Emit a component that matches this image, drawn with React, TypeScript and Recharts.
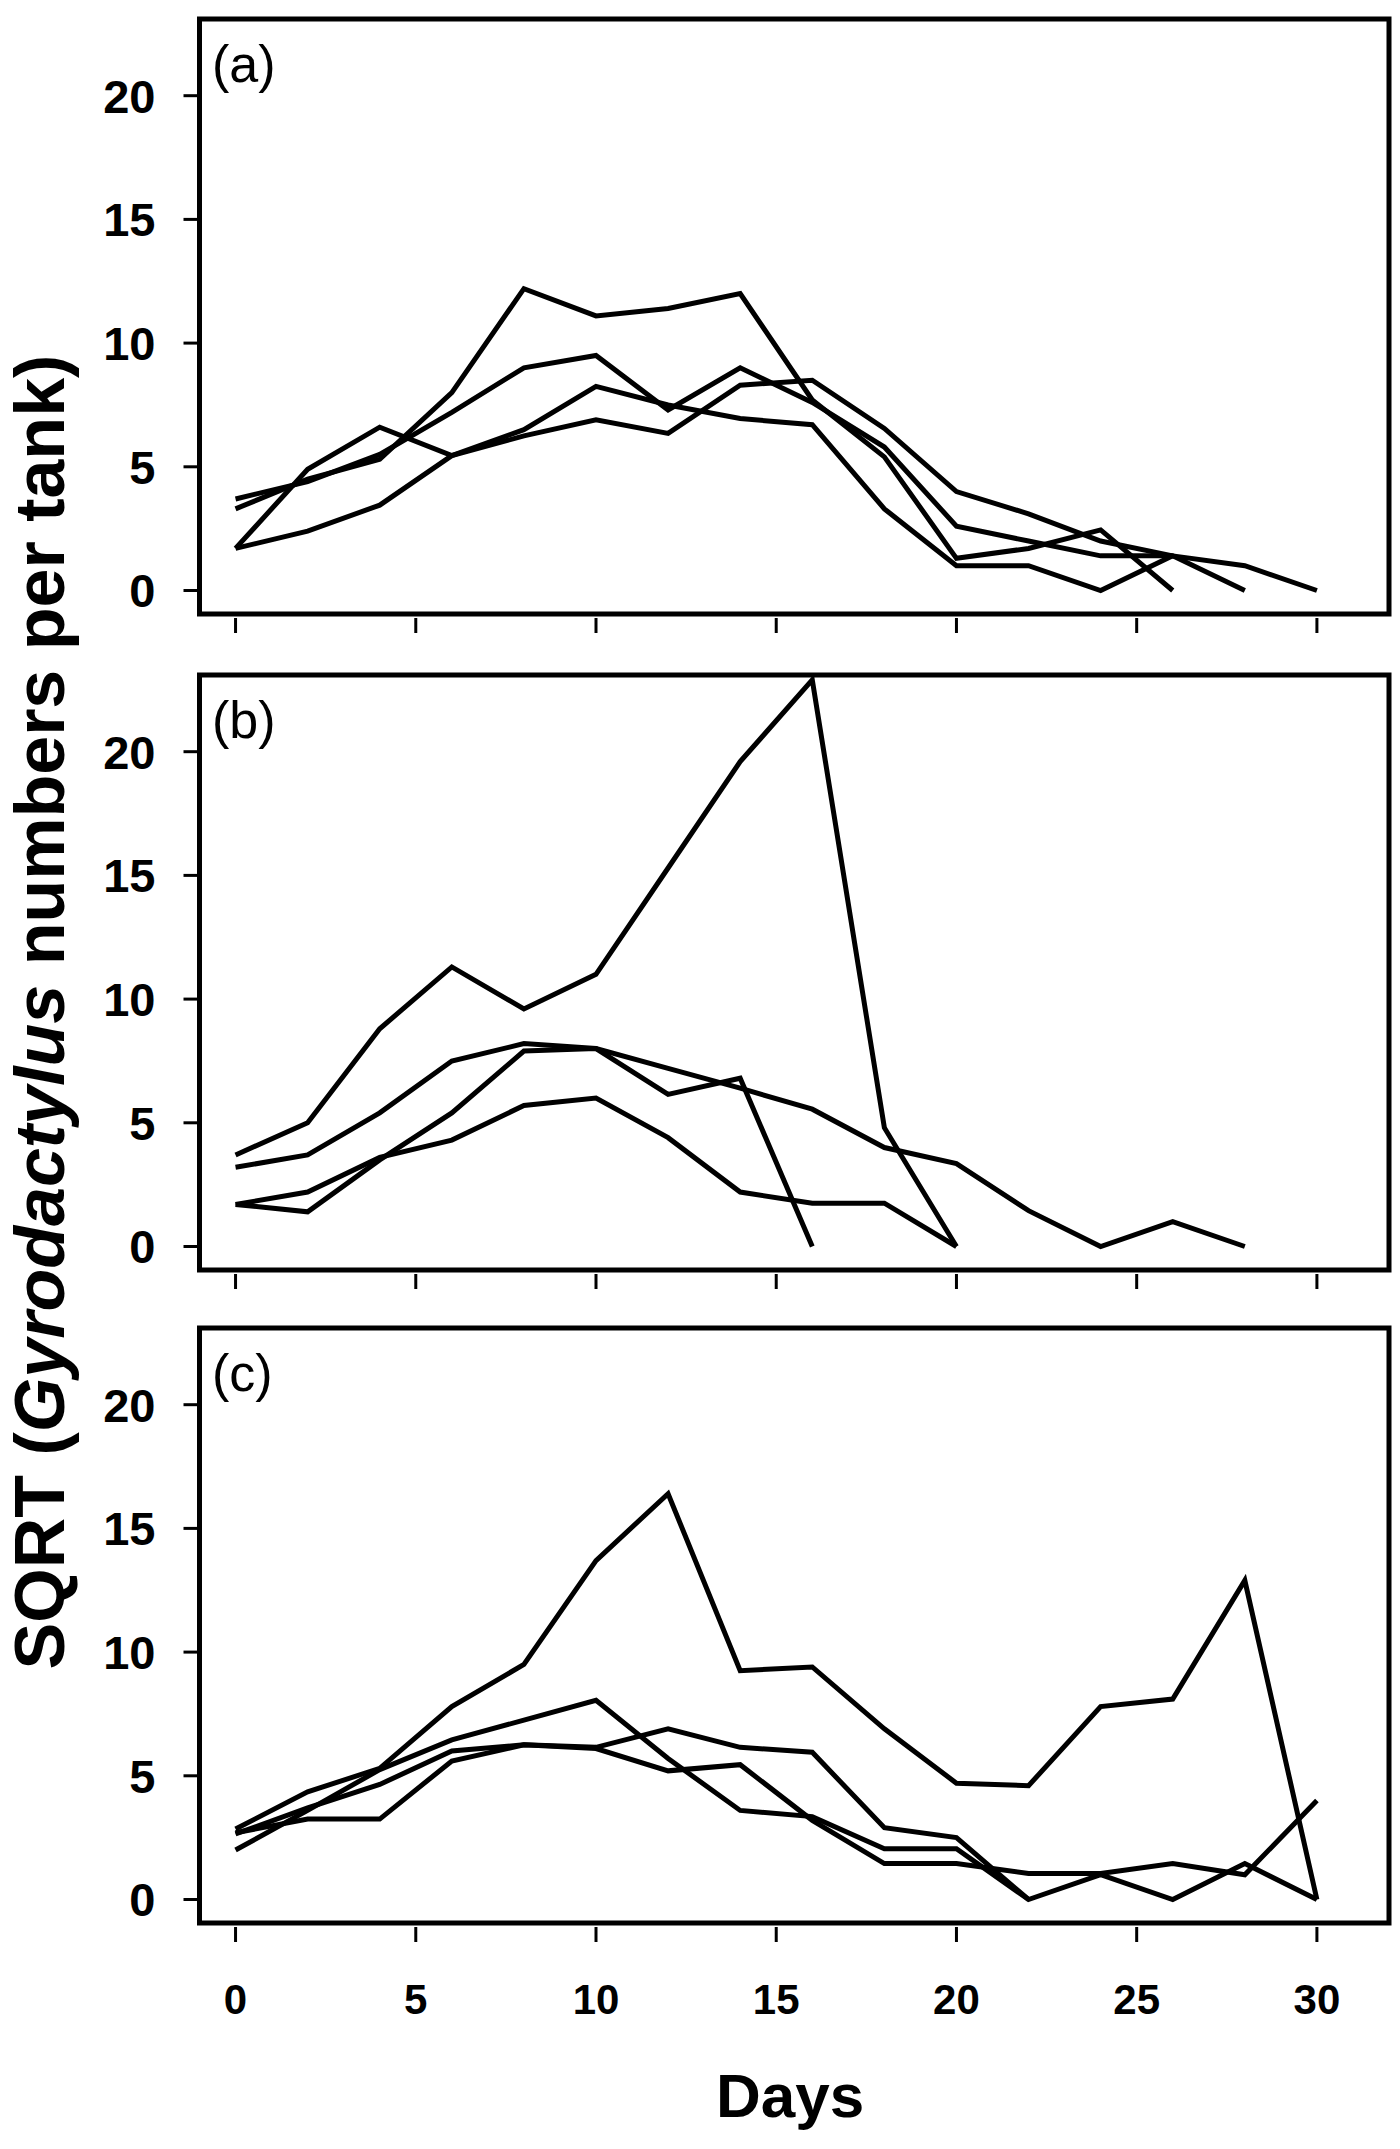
import React from "react";
import { LineChart, Line, XAxis, YAxis, ReferenceArea } from "recharts";

// sampling days (every second day)
const days = [0, 2, 4, 6, 8, 10, 12, 14, 16, 18, 20, 22, 24, 26, 28, 30];
const dayTicks = [0, 5, 10, 15, 20, 25, 30];
const valueTicks = [0, 5, 10, 15, 20];

// panel (a) - one array per tank, a line stops where the tank's record stops
const tankA1 = [3.3, 4.5, 5.3, 8.0, 12.2, 11.1, 11.4, 12.0, 7.7, 5.4, 1.3, 1.7, 2.45, 0];
const tankA2 = [1.7, 4.9, 6.6, 5.45, 6.5, 8.25, 7.5, 6.95, 6.7, 3.3, 1.0, 1.0, 0, 1.4];
const tankA3 = [1.7, 2.4, 3.45, 5.45, 6.25, 6.9, 6.35, 8.3, 8.5, 6.55, 4.0, 3.1, 2.0, 1.4, 1.0, 0];
const tankA4 = [3.7, 4.4, 5.5, 7.2, 9.0, 9.5, 7.3, 9.0, 7.6, 5.8, 2.6, 2.0, 1.4, 1.4, 0];

// panel (b)
const tankB1 = [3.7, 5.0, 8.8, 11.3, 9.6, 11.0, 15.3, 19.6, 22.9, 4.8, 0];
const tankB2 = [3.2, 3.7, 5.4, 7.5, 8.2, 8.0, 7.2, 6.4, 5.55, 4.0, 3.35, 1.45, 0, 1.0, 0];
const tankB3 = [1.7, 1.4, 3.5, 5.4, 7.9, 8.0, 6.15, 6.8, 0];
const tankB4 = [1.7, 2.2, 3.6, 4.3, 5.7, 6.0, 4.4, 2.2, 1.75, 1.75, 0];

// panel (c)
const tankC1 = [2.85, 4.35, 5.3, 7.8, 9.5, 13.7, 16.4, 9.25, 9.4, 6.9, 4.7, 4.6, 7.8, 8.1, 12.9, 0];
const tankC2 = [2.0, 3.6, 5.25, 6.45, 7.25, 8.05, 5.7, 3.6, 3.35, 2.05, 2.05, 0];
const tankC3 = [2.65, 3.7, 4.65, 6.0, 6.25, 6.15, 6.9, 6.15, 5.95, 2.9, 2.5, 0, 1.0, 0, 1.45, 0];
const tankC4 = [2.7, 3.25, 3.25, 5.6, 6.25, 6.1, 5.2, 5.45, 3.2, 1.45, 1.45, 1.05, 1.05, 1.45, 1.0, 4.0];

const FONT = '"Liberation Sans", Arial, Helvetica, sans-serif';
const PLOT_H = 595;
const TOP_PAD = 10;

const buildRows = (series: number[][]) =>
  days.map((day, i) => {
    const row: Record<string, number> = { day };
    series.forEach((s, k) => {
      if (i < s.length) row["s" + k] = s[i];
    });
    return row;
  });

const panels = [
  { tag: "(a)", top: 19, rows: buildRows([tankA1, tankA2, tankA3, tankA4]), labels: false },
  { tag: "(b)", top: 675, rows: buildRows([tankB1, tankB2, tankB3, tankB4]), labels: false },
  { tag: "(c)", top: 1328, rows: buildRows([tankC1, tankC2, tankC3, tankC4]), labels: true },
];

const XTick = (props: any) => {
  const { x, y, payload, showLabel } = props;
  return (
    <g>
      <line x1={x} x2={x} y1={y + 4} y2={y + 19} stroke="#000" strokeWidth={3} />
      {showLabel && (
        <text x={x} y={y + 91} textAnchor="middle" fontFamily={FONT} fontWeight="bold" fontSize={42} fill="#000">
          {payload.value}
        </text>
      )}
    </g>
  );
};

const YTick = (props: any) => {
  const { x, y, payload } = props;
  return (
    <g>
      <line x1={x - 16} x2={x - 2} y1={y} y2={y} stroke="#000" strokeWidth={3} />
      <text x={x - 44} y={y + 17} textAnchor="end" fontFamily={FONT} fontWeight="bold" fontSize={47} fill="#000">
        {payload.value}
      </text>
    </g>
  );
};

const Panel = ({ rows, labels }: { rows: any[]; labels: boolean }) => {
  const axisH = labels ? 110 : 30;
  return (
    <LineChart
      width={1400}
      height={TOP_PAD + PLOT_H + axisH}
      data={rows}
      margin={{ top: TOP_PAD, right: 11, bottom: 0, left: 79.5 }}
    >
      <XAxis
        type="number"
        dataKey="day"
        domain={[-1, 32]}
        ticks={dayTicks}
        interval={0}
        height={axisH}
        axisLine={false}
        tickLine={false}
        tickSize={0}
        tickMargin={0}
        tick={(p: any) => <XTick {...p} showLabel={labels} />}
      />
      <YAxis
        type="number"
        domain={[-0.95, 23.1]}
        ticks={valueTicks}
        interval={0}
        width={120}
        axisLine={false}
        tickLine={false}
        tickSize={0}
        tickMargin={0}
        tick={(p: any) => <YTick {...p} />}
      />
      <ReferenceArea x1={-1} x2={32} y1={-0.95} y2={23.1} fill="none" stroke="#000" strokeWidth={5} />
      {["s0", "s1", "s2", "s3"].map((k) => (
        <Line
          key={k}
          type="linear"
          dataKey={k}
          stroke="#000"
          strokeWidth={5}
          dot={false}
          activeDot={false}
          isAnimationActive={false}
        />
      ))}
    </LineChart>
  );
};

const App = () => {
  return (
    <div style={{ position: "absolute", left: 0, top: 0, width: 1400, height: 2149, background: "#fff" }}>
      {panels.map((p) => (
        <div key={p.tag} style={{ position: "absolute", left: 0, top: p.top - TOP_PAD }}>
          <Panel rows={p.rows} labels={p.labels} />
        </div>
      ))}
      <svg width={1400} height={2149} style={{ position: "absolute", left: 0, top: 0, pointerEvents: "none" }}>
        {panels.map((p) => (
          <text key={p.tag} x={212} y={p.top + 63} fontFamily={FONT} fontSize={52} fill="#000">
            {p.tag}
          </text>
        ))}
        <text
          x={64}
          y={1012}
          transform="rotate(-90 64 1012)"
          textAnchor="middle"
          fontFamily={FONT}
          fontWeight="bold"
          fontSize={70}
          fill="#000"
        >
          SQRT (<tspan fontStyle="italic">Gyrodactylus</tspan> numbers per tank)
        </text>
        <text x={790} y={2117} textAnchor="middle" fontFamily={FONT} fontWeight="bold" fontSize={62} fill="#000">
          Days
        </text>
      </svg>
    </div>
  );
};

export default App;
